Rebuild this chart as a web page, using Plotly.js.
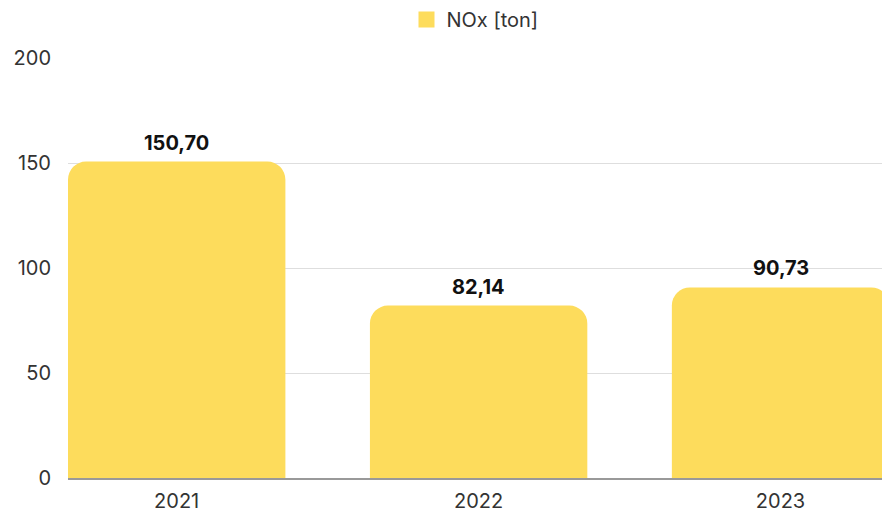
<!DOCTYPE html>
<html>
<head>
<meta charset="utf-8">
<script src="https://cdn.plot.ly/plotly-3.0.1.min.js"></script>
<style>html,body{margin:0;padding:0;background:#fff;}#chart{width:882px;height:514px;}</style>
</head>
<body>
<div id="chart"></div>
<script>
var categories = ['2021', '2022', '2023'];
var noxValues = [150.70, 82.14, 90.73];
var seriesName = 'NOx [ton]';
var yTicks = [0, 50, 100, 150, 200];

var barColor = '#FDDC5C';

var barTrace = {
  type: 'bar',
  x: categories,
  y: noxValues,
  name: seriesName,
  marker: {color: barColor, cornerradius: 18},
  hoverinfo: 'skip',
  showlegend: false
};

// legend-only entry with a larger square swatch
var legendTrace = {
  type: 'scatter',
  mode: 'markers',
  x: [null],
  y: [null],
  name: seriesName,
  marker: {symbol: 'square', color: barColor, size: 22},
  showlegend: true,
  hoverinfo: 'skip'
};

function fmt(v) { return v.toFixed(2).replace('.', ','); }

var annotations = categories.map(function (c, i) {
  return {
    x: i, y: noxValues[i], xref: 'x', yref: 'y',
    text: '<b>' + fmt(noxValues[i]) + '</b>',
    showarrow: false, yanchor: 'bottom', yshift: 5,
    font: {family: 'Inter, sans-serif', size: 20, color: '#111'}
  };
});

var layout = {
  width: 882, height: 514,
  margin: {l: 68, r: 0, t: 58, b: 36},
  paper_bgcolor: '#fff', plot_bgcolor: '#fff',
  separators: ',.',
  bargap: 0.28,
  font: {family: 'Inter, sans-serif', color: '#333', size: 20},
  showlegend: true,
  legend: {orientation: 'h', x: 0.5, xanchor: 'center', y: 1, yref: 'container', yanchor: 'top',
           font: {size: 20, color: '#333'}, itemsizing: 'trace'},
  annotations: annotations,
  xaxis: {type: 'category', range: [-0.36, 2.336], showgrid: false, ticks: '',
          showline: true, linecolor: '#999', linewidth: 1.5, tickfont: {size: 20, color: '#333'},
          ticklabelstandoff: 4, fixedrange: true},
  yaxis: {range: [0, 200], tickvals: yTicks, showgrid: true, gridcolor: '#dedede', gridwidth: 1,
          zeroline: false, showline: false, ticks: '', ticklabelstandoff: 16,
          tickfont: {size: 20, color: '#333'}, fixedrange: true}
};

Plotly.newPlot('chart', [barTrace, legendTrace], layout, {displayModeBar: false, staticPlot: true});
</script>
</body>
</html>
